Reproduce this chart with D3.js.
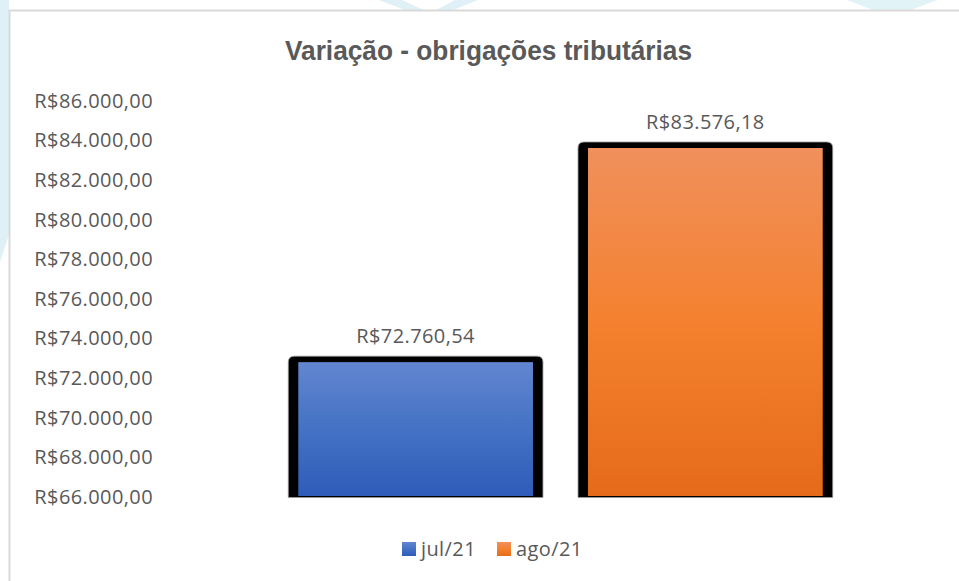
<html lang="pt-BR">
    <head>
        <meta charset="utf-8">
        <title>Variação - obrigações tributárias</title>
        <script type="text/javascript" src="https://d3js.org/d3.v7.min.js"></script>
        <style>
            body { margin: 0; background: #ffffff; }
        </style>
    </head>
    <body>
        <div id="chart"></div>
        <script type="text/javascript">
            // dados
            const series = ["jul/21", "ago/21"];
            const values = [72760.54, 83576.18];
            const yTicks = [66000, 68000, 70000, 72000, 74000, 76000, 78000, 80000, 82000, 84000, 86000];
            const title = "Variação - obrigações tributárias";

            const width = 959, height = 581;
            const plot = {'left': 165, 'right': 956, 'top': 100, 'bottom': 496};
            const textColor = "#595959";
            const bodyFont = "'Open Sans', 'Noto Sans', sans-serif";
            const bodySize = "20px", bodySpacing = "0.4px";

            const fmt = v => "R$" + d3.format(",.2f")(v).replace(/,/g, "#").replace(".", ",").replace(/#/g, ".");

            const svg = d3.select("#chart").append("svg").attr("width", width).attr("height", height);

            // fundo decorativo da página
            const deco = svg.append("g").attr("fill", "#dff1f6");
            deco.append("path").attr("d", "M0,0 L9,0 L9,235 L0,262 Z");
            deco.append("path").attr("d", "M379,0 L402,0 L428,12 L410,12 Z");
            deco.append("path").attr("d", "M455,0 L478,0 L448,12 L432,12 Z");
            deco.append("path").attr("d", "M847,0 L937,0 L906,12 L878,12 Z").attr("fill", "#e2f3f7");

            // área do gráfico
            svg.append("rect").attr("x", 9.5).attr("y", 10.5).attr("width", 1000).attr("height", 1000)
                .attr("fill", "#ffffff").attr("stroke", "#d9d9d9").attr("stroke-width", 2);

            // gradientes
            const defs = svg.append("defs");
            const gradStops = {
                "jul/21": ["#6286d0", "#4472c4", "#2e5cb9"],
                "ago/21": ["#f0905c", "#f4812f", "#e56b19"]
            };
            series.forEach((s, i) => {
                const g = defs.append("linearGradient").attr("id", "grad" + i)
                    .attr("x1", 0).attr("y1", 0).attr("x2", 0).attr("y2", 1);
                gradStops[s].forEach((c, j) => g.append("stop").attr("offset", j / 2).attr("stop-color", c));
            });

            const xScale = d3.scaleBand().domain(series).range([plot.left, plot.right])
                .paddingInner(0.19).paddingOuter(0.46);
            const yScale = d3.scaleLinear().domain([66000, 86000]).range([plot.bottom, plot.top]);

            // título
            svg.append("text").attr("x", 488.5).attr("y", 60).attr("text-anchor", "middle")
                .attr("font-family", "'Liberation Sans Narrow', 'Liberation Sans', Arial, sans-serif")
                .attr("font-weight", "bold").attr("font-size", "27px").attr("fill", textColor)
                .attr("textLength", 407).attr("lengthAdjust", "spacingAndGlyphs")
                .text(title);

            // eixo Y (somente rótulos)
            const axis = svg.append("g").attr("transform", `translate(${plot.left - 12},0)`)
                .call(d3.axisLeft(yScale).tickValues(yTicks).tickSize(0).tickPadding(0).tickFormat(fmt));
            axis.select(".domain").remove();
            axis.selectAll("text").attr("font-family", bodyFont).attr("font-size", bodySize)
                .attr("letter-spacing", bodySpacing).attr("fill", textColor).attr("dy", "0.36em");

            // barras com sombra preta
            const bars = svg.append("g");
            series.forEach((s, i) => {
                const x0 = xScale(s), bw = xScale.bandwidth();
                const yTop = yScale(values[i]), yBase = yScale(66000);
                const sx0 = x0 - 10, sx1 = x0 + bw + 10, sy = yTop - 6, r = 6;
                bars.append("path")
                    .attr("d", `M${sx0},${yBase + 1.5} L${sx0},${sy + r} Q${sx0},${sy} ${sx0 + r},${sy} ` +
                        `L${sx1 - r},${sy} Q${sx1},${sy} ${sx1},${sy + r} L${sx1},${yBase + 1.5} Z`)
                    .attr("fill", "#000000").attr("stroke", "#9a9a9a").attr("stroke-width", 0.8);
                bars.append("rect").attr("x", x0).attr("y", yTop).attr("width", bw).attr("height", yBase - yTop)
                    .attr("fill", `url(#grad${i})`);
                bars.append("text").attr("x", x0 + bw / 2).attr("y", yTop - 26).attr("text-anchor", "middle")
                    .attr("dy", "0.36em").attr("font-family", bodyFont).attr("font-size", bodySize)
                    .attr("letter-spacing", bodySpacing).attr("fill", textColor).text(fmt(values[i]));
            });

            // legenda
            const legendX = [402, 497];
            const legend = svg.append("g");
            series.forEach((s, i) => {
                legend.append("rect").attr("x", legendX[i]).attr("y", 542).attr("width", 14).attr("height", 14)
                    .attr("fill", `url(#grad${i})`);
                legend.append("text").attr("x", legendX[i] + 19).attr("y", 549).attr("dy", "0.36em")
                    .attr("font-family", bodyFont).attr("font-size", bodySize)
                    .attr("letter-spacing", bodySpacing).attr("fill", textColor).text(s);
            });
        </script>
    </body>
</html>
